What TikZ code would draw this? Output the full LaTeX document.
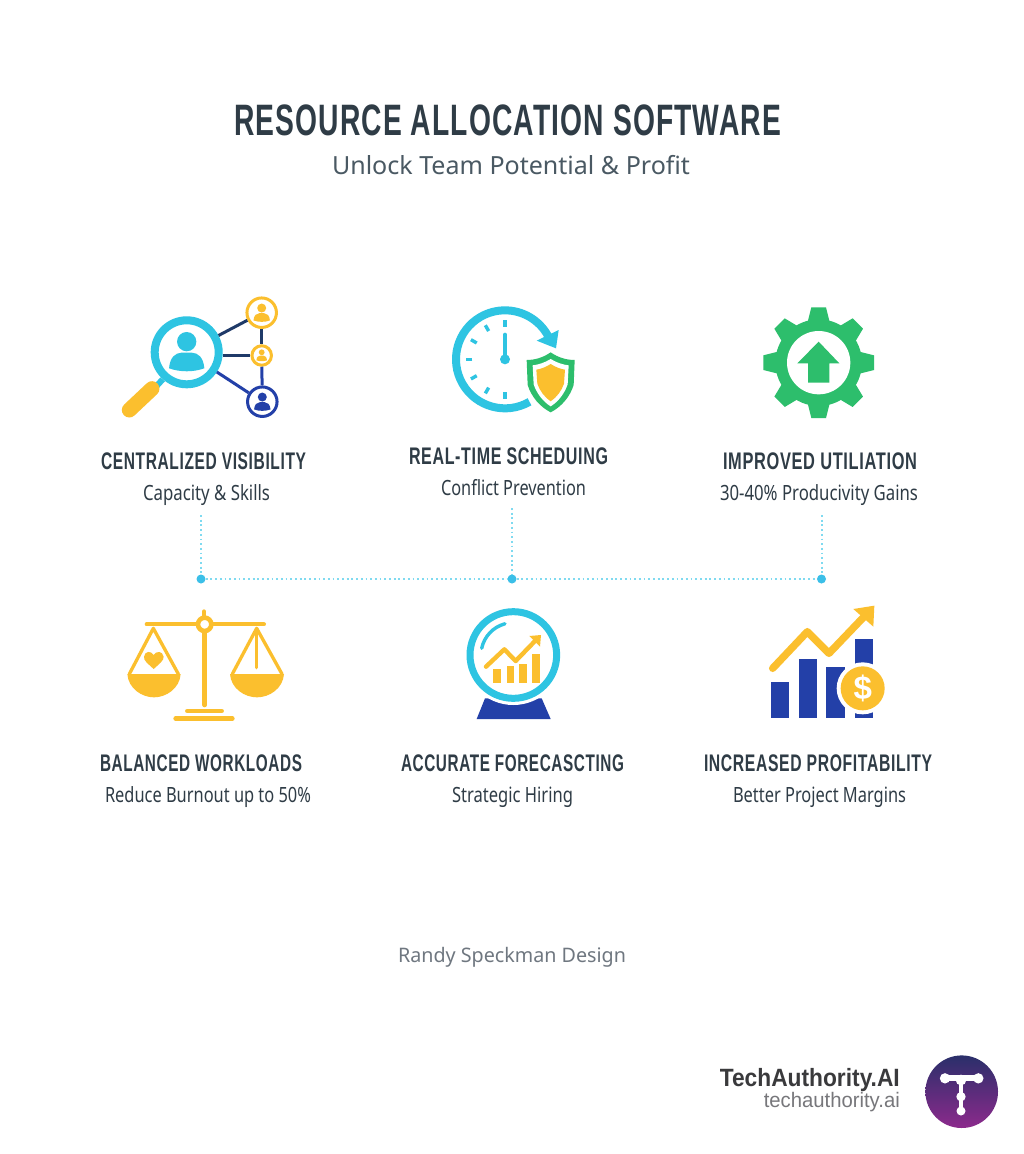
\documentclass[tikz,border=0pt]{standalone}
\usepackage{fontspec}
\usepackage{graphicx}
\usetikzlibrary{calc}
\setmainfont{Open Sans}
\newfontfamily\headfont[LetterSpace=4]{Liberation Sans}
\newfontfamily\subfont{Noto Sans}
\newfontfamily\brandfont{Liberation Sans}
\definecolor{ink}{HTML}{2F3C46}
\definecolor{subink}{HTML}{4A5963}
\definecolor{graytxt}{HTML}{6F7780}
\definecolor{brand}{HTML}{3A3A3C}
\definecolor{brandsub}{HTML}{77777B}
\definecolor{cyanic}{HTML}{2EC4E2}
\definecolor{amber}{HTML}{FBBF2E}
\definecolor{navy}{HTML}{1F3A68}
\definecolor{royal}{HTML}{2340A8}
\definecolor{leaf}{HTML}{2DBE6C}
\definecolor{dotc}{HTML}{3BBFE8}
\definecolor{dotl}{HTML}{7FDAF0}
\definecolor{logotop}{HTML}{2A2F6A}
\definecolor{logobot}{HTML}{8C2A8C}
\newcommand\fitw[2]{\setbox0=\hbox{#2}\pgfmathsetmacro\fitr{#1/\the\wd0}\scalebox{\fitr}[1]{\box0}}
\newcommand\fs[1]{\fontsize{#1}{#1}\selectfont}
\tikzset{
  txt/.style={inner sep=0pt,outer sep=0pt,anchor=base},
  titletxt/.style={txt,text=ink,font=\headfont\bfseries\fs{44}},
  subtitletxt/.style={txt,text=subink,font=\subfont\fs{25}},
  headtxt/.style={txt,text=ink,font=\headfont\bfseries\fs{24}},
  desctxt/.style={txt,text=ink,font=\subfont\fs{21}},
  credit/.style={txt,text=graytxt,font=\subfont\fs{20}},
  brandtxt/.style={inner sep=0pt,anchor=base east,text=brand,font=\brandfont\bfseries\fs{25}},
  brandsubtxt/.style={inner sep=0pt,anchor=base east,text=brandsub,font=\brandfont\fs{21}},
  dotnode/.style={circle,fill=dotc,inner sep=0pt,minimum size=9pt},
  dotline/.style={dotl,line width=2pt,dash pattern=on 1.8pt off 2.9pt},
  person/.style={circle,draw=#1,line width=3pt,fill=white,inner sep=0pt},
  link/.style={line width=3pt,draw=#1},
}
% head and shoulders, in zoom units around its centre
\newcommand\personicon[4]{\begin{scope}[shift={(#1,#2)},scale=#3]
  \fill[#4] (0,-32) circle (29);
  \fill[#4] (-53,48) .. controls (-50,15) and (-35,2) .. (-15,1) -- (15,1)
     .. controls (35,2) and (50,15) .. (53,48) .. controls (20,60) and (-20,60) .. (-53,48) -- cycle;
\end{scope}}
\begin{document}
\begin{tikzpicture}[x=1pt,y=-1pt]
\useasboundingbox (0,0) rectangle (1024,1154);
\fill[white] (0,0) rectangle (1024,1154);

% ---- texts
\node[titletxt] (title) at (507.5,135) {\fitw{547}{RESOURCE ALLOCATION SOFTWARE}};
\node[subtitletxt] (subtitle) at (511,174) {\fitw{358}{Unlock Team Potential \& Profit}};

\node[headtxt] (h1) at (203.5,469) {\fitw{205}{CENTRALIZED VISIBILITY}};
\node[desctxt] (d1) at (206.5,500) {\fitw{127}{Capacity \& Skills}};
\node[headtxt] (h2) at (508.5,464) {\fitw{199}{REAL-TIME SCHEDUING}};
\node[desctxt] (d2) at (513.5,495) {\fitw{145}{Conflict Prevention}};
\node[headtxt] (h3) at (820,469) {\fitw{194}{IMPROVED UTILIATION}};
\node[desctxt] (d3) at (819,500) {\fitw{198}{30-40\% Producivity Gains}};
\node[headtxt] (h4) at (201,771) {\fitw{202}{BALANCED WORKLOADS}};
\node[desctxt] (d4) at (208,802) {\fitw{206}{Reduce Burnout up to 50\%}};
\node[headtxt] (h5) at (512.5,771) {\fitw{223}{ACCURATE FORECASCTING}};
\node[desctxt] (d5) at (512.5,802) {\fitw{121}{Strategic Hiring}};
\node[headtxt] (h6) at (818,771) {\fitw{228}{INCREASED PROFITABILITY}};
\node[desctxt] (d6) at (819.5,802) {\fitw{173}{Better Project Margins}};

\node[credit] (credit) at (512,962) {\fitw{228}{Randy Speckman Design}};
\node[brandtxt] (brand1) at (900,1086) {\fitw{180}{TechAuthority.AI}};
\node[brandsubtxt] (brand2) at (900,1107) {\fitw{136}{techauthority.ai}};

% ---- dotted connectors
\node[dotnode] (j1) at (201,579) {};
\node[dotnode] (j2) at (512,579) {};
\node[dotnode] (j3) at (821.5,579) {};
\coordinate (t1) at (201,515);
\coordinate (t2) at (512,508);
\coordinate (t3) at (821.5,515);
\draw[dotline] (t1) -- (j1);
\draw[dotline] (t2) -- (j2);
\draw[dotline] (t3) -- (j3);
\draw[dotline] (j1) -- (j2);
\draw[dotline] (j2) -- (j3);

% ---- icon 1: centralized visibility
\node[circle,draw=cyanic,line width=8pt,fill=white,inner sep=0pt,minimum size=64pt] (lens) at (186.7,352.3) {};
\node[person=amber,minimum size=29.5pt] (p1) at (261.7,312.7) {};
\node[person=amber,minimum size=19.5pt] (p2) at (261.7,355.5) {};
\node[person=royal,minimum size=29.5pt] (p3) at (262.3,401.7) {};
\draw[link=navy] (lens) -- (p1);
\draw[link=navy] (lens.east |- p2) -- (p2);
\draw[link=royal] (lens) -- (p3);
\draw[link=navy] (p1) -- (p2);
\draw[link=royal] (p2) -- (p3);
\begin{scope}[shift={(100,280)},scale=1/3]
  \draw[cyanic,line width=6pt] (188,298) -- (168,320);
  \draw[amber,line width=15pt,line cap=round] (156,326) -- (88,390);
\end{scope}
\personicon{186.7}{352.3}{0.333}{cyanic}
\personicon{261.7}{313}{0.155}{amber}
\personicon{261.7}{355.5}{0.1}{amber}
\personicon{262.3}{402}{0.155}{royal}

% ---- icon 2: real-time scheduling
\begin{scope}[shift={(430,290)},scale=1/3]
  \draw[cyanic,line width=8pt] (225,208) ++(60:147) arc[start angle=60,end angle=332,radius=147];
  \fill[cyanic] (386,120) -- (320,152) -- (378,175) -- cycle;
  \foreach \a in {90,120,150,180,210,240,270} {
    \draw[cyanic,line width=3.4pt] ($(225,208)+(\a:98)$) -- ($(225,208)+(\a:118)$);
  }
  \draw[cyanic,line width=4pt,line cap=round] (225,195) -- (225,134);
  \fill[cyanic] (225,208) circle (15);
  \fill[white] (362,176) -- (445,202) -- (440,295) -- (362,380) -- (284,295) -- (279,202) -- cycle;
  \fill[leaf] (362,187) .. controls (385,203) and (410,210) .. (434,210) -- (431,285)
     .. controls (420,320) and (395,350) .. (362,367) .. controls (329,350) and (304,320) .. (293,285) -- (290,210)
     .. controls (314,210) and (339,203) .. (362,187) -- cycle;
  \fill[white] (362,207) .. controls (380,218) and (398,224) .. (416,226) -- (413,283)
     .. controls (404,310) and (385,335) .. (362,349) .. controls (339,335) and (320,310) .. (311,283) -- (308,226)
     .. controls (326,224) and (344,218) .. (362,207) -- cycle;
  \fill[amber] (362,222) .. controls (376,231) and (391,237) .. (405,239) -- (402,281)
     .. controls (395,302) and (380,322) .. (362,334) .. controls (344,322) and (329,302) .. (322,281) -- (319,239)
     .. controls (333,237) and (348,231) .. (362,222) -- cycle;
\end{scope}

% ---- icon 3: improved utilization
\begin{scope}[shift={(740,290)},scale=1/3]
  \fill[leaf] (236,218) circle (130);
  \foreach \a in {0,45,...,315} {
    \begin{scope}[shift={(236,218)},rotate=\a]
      \fill[leaf] (-33,-122) -- (-22,-166) -- (22,-166) -- (33,-122) -- cycle;
    \end{scope}
  }
  \fill[white] (236,218) circle (95);
  \fill[leaf] (236,155) -- (298,220) -- (268,220) -- (268,278) -- (204,278) -- (204,220) -- (172,220) -- cycle;
\end{scope}

% ---- icon 4: balanced workloads
\begin{scope}[shift={(110,600)},scale=1/3]
  \begin{scope}[amber,line cap=round]
    \draw[line width=4pt] (110,73) -- (462,73);
    \draw[line width=4.6pt] (282,35) -- (282,50);
    \draw[line width=4.6pt] (284,95) -- (284,315);
    \draw[line width=4.6pt] (232,333) -- (335,333);
    \draw[line width=4.6pt] (197,356) -- (367,356);
    \draw[line width=3.3pt,line join=round] (58,222) -- (130,85) -- (205,222);
    \draw[line width=3.3pt,line join=round] (367,222) -- (440,85) -- (516,222);
    \draw[line width=3.3pt] (440,90) -- (440,203);
  \end{scope}
  \fill[amber] (52,222) .. controls (55,265) and (95,292) .. (132,292) .. controls (169,292) and (209,265) .. (212,222) -- cycle;
  \fill[amber] (360,222) .. controls (363,265) and (403,292) .. (441,292) .. controls (479,292) and (519,265) .. (522,222) -- cycle;
  \fill[amber] (131,207) .. controls (115,192) and (100,182) .. (102,170) .. controls (104,152) and (124,152) .. (131,165)
     .. controls (138,152) and (158,152) .. (161,170) .. controls (162,182) and (147,192) .. (131,207) -- cycle;
  \draw[amber,line width=4.6pt,fill=white] (284,73) circle (20);
\end{scope}

% ---- icon 5: accurate forecasting
\begin{scope}[shift={(450,600)},scale=1/3]
  \fill[royal] (105,295) -- (275,295) -- (302,357) -- (80,357) -- cycle;
  \fill[white] (190,165) circle (150);
  \draw[cyanic,line width=7pt] (190,165) circle (130);
  \draw[cyanic,line width=3.4pt,line cap=round] (190,165) ++(192:97) arc[start angle=192,end angle=255,radius=97];
  \fill[amber] (130,206) rectangle (153,248);
  \fill[amber] (170,199) rectangle (193,248);
  \fill[amber] (208,193) rectangle (232,248);
  \fill[amber] (246,162) rectangle (270,248);
  \draw[amber,line width=4.4pt,line cap=round,line join=round] (108,200) -- (163,148) -- (197,183) -- (256,122);
  \fill[amber] (273,105) -- (238,108) -- (270,140) -- cycle;
\end{scope}

% ---- icon 6: increased profitability
\begin{scope}[shift={(750,595)},scale=1/3]
  \fill[royal] (63,260) rectangle (118,370);
  \fill[royal] (146,193) rectangle (200,370);
  \fill[royal] (229,215) rectangle (285,370);
  \fill[royal] (315,132) rectangle (370,370);
  \draw[amber,line width=7.4pt,line cap=round,line join=round] (68,220) -- (172,110) -- (237,175) -- (345,62);
  \fill[amber,line join=round] (373,32) -- (310,42) -- (370,95) -- cycle;
  \fill[white] (338,280) circle (78);
  \fill[amber] (338,280) circle (66);
\end{scope}
\node[txt,anchor=center,text=white,font=\brandfont\bfseries\fs{33}] (dollar) at (862.7,688.5) {\$};

% ---- logo
\shade[top color=logotop,bottom color=logobot] (961.7,1091.7) circle (36.3);
\begin{scope}[shift={(700,1040)},scale=1/3]
  \fill[white] (735,115) circle (15.5);
  \fill[white] (835,115) circle (15.5);
  \fill[white] (783,120) circle (16);
  \fill[white] (783,170) circle (14);
  \fill[white] (783,213) circle (13.5);
  \draw[white,line width=6pt] (735,115) -- (835,115);
  \draw[white,line width=4.6pt] (783,118) -- (783,213);
\end{scope}
\end{tikzpicture}
\end{document}
